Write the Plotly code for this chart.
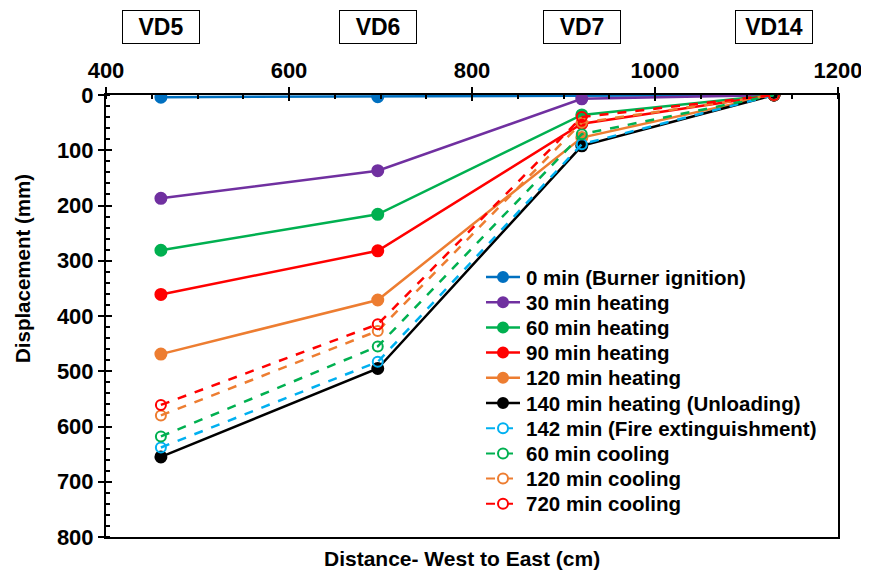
import plotly.graph_objects as go

gauges = ["VD5", "VD6", "VD7", "VD14"]
distance_cm = [460, 697, 920, 1130]

series_names = [
    "0 min (Burner ignition)",
    "30 min heating",
    "60 min heating",
    "90 min heating",
    "120 min heating",
    "140 min heating (Unloading)",
    "142 min (Fire extinguishment)",
    "60 min cooling",
    "120 min cooling",
    "720 min cooling",
]
disp_0 = [4, 3, 1, 0]
disp_30 = [187, 137, 7, 0]
disp_60 = [281, 216, 36, 0]
disp_90 = [361, 282, 52, 0]
disp_120 = [469, 371, 77, 0]
disp_140 = [655, 495, 92, 0]
disp_142 = [638, 483, 89, 0]
disp_c60 = [618, 455, 71, 0]
disp_c120 = [580, 427, 50, 0]
disp_c720 = [561, 415, 40, 0]

x_ticks = [400, 600, 800, 1000, 1200]
y_ticks = [0, 100, 200, 300, 400, 500, 600, 700, 800]

values = [disp_0, disp_30, disp_60, disp_90, disp_120, disp_140,
          disp_142, disp_c60, disp_c120, disp_c720]
colors = ["#0070C0", "#7030A0", "#00B050", "#FF0000", "#ED7D31", "#000000",
          "#00B0F0", "#00B050", "#ED7D31", "#FF0000"]
dashed = [False] * 6 + [True] * 4

fig = go.Figure()
for name, vals, col, dsh in zip(series_names, values, colors, dashed):
    fig.add_trace(go.Scatter(
        x=distance_cm, y=vals, name=name, mode="lines+markers", showlegend=False,
        line=dict(color=col, width=2.5, dash="dash" if dsh else "solid"),
        marker=dict(size=11 if not dsh else 10,
                    symbol="circle-open" if dsh else "circle",
                    color=col, line=dict(color=col, width=2)),
    ))

# invisible helper trace for overlay axes (inner half of crossing ticks)
fig.add_trace(go.Scatter(x=[None], y=[None], xaxis="x2", yaxis="y2",
                         showlegend=False, hoverinfo="skip"))

font = "Liberation Sans, Arial, sans-serif"
tf = dict(family=font, size=22, color="black", weight="bold")

# page is offset by 8px body margin; plot area spans page x 106..838, y 95..537
fig.update_layout(
    width=861, height=567,
    margin=dict(l=98, r=31, t=87, b=38, autoexpand=False),
    paper_bgcolor="white", plot_bgcolor="white",
    font=dict(family=font, size=21, color="black"),
    showlegend=False,
    xaxis=dict(
        side="top", range=[400, 1200], tickvals=x_ticks, automargin=False,
        showline=True, linecolor="black", linewidth=2, mirror=True,
        ticks="outside", ticklen=6, tickwidth=2, tickcolor="black",
        minor=dict(dtick=50, ticks="inside", ticklen=4, tickwidth=1.5, tickcolor="black"),
        showgrid=False, zeroline=False, tickfont=tf,
    ),
    yaxis=dict(
        range=[800, 0], tickvals=y_ticks, automargin=False,
        showline=True, linecolor="black", linewidth=2, mirror=True,
        ticks="outside", ticklen=6, tickwidth=2, tickcolor="black",
        minor=dict(dtick=20, ticks="inside", ticklen=4, tickwidth=1.5, tickcolor="black"),
        showgrid=False, zeroline=False, tickfont=tf,
    ),
    xaxis2=dict(overlaying="x", side="top", range=[400, 1200], tickvals=x_ticks,
                ticks="inside", ticklen=6, tickwidth=2, tickcolor="black",
                showticklabels=False, showline=False, showgrid=False, zeroline=False,
                automargin=False),
    yaxis2=dict(overlaying="y", side="left", range=[800, 0], tickvals=y_ticks,
                ticks="inside", ticklen=6, tickwidth=2, tickcolor="black",
                showticklabels=False, showline=False, showgrid=False, zeroline=False,
                automargin=False),
)

# custom legend (rows 25px apart) built from the series lists
PX0, PY0, PW, PH = 106, 537, 732, 442
def px(xp):
    return (xp - PX0) / PW
def py(yp):
    return (PY0 - yp) / PH

for i, (name, col, dsh) in enumerate(zip(series_names, colors, dashed)):
    yrow = py(277 + 25.2 * i)
    fig.add_shape(type="line", xref="paper", yref="paper",
                  x0=px(486), x1=px(520), y0=yrow, y1=yrow,
                  line=dict(color=col, width=2.5 if not dsh else 2,
                            dash="dash" if dsh else "solid"))
    fig.add_shape(type="circle", xref="paper", yref="paper",
                  xsizemode="pixel", ysizemode="pixel",
                  xanchor=px(503), yanchor=yrow, x0=-5, x1=5, y0=-5, y1=5,
                  fillcolor="white" if dsh else col,
                  line=dict(color=col, width=2))
    fig.add_annotation(x=px(524), y=yrow, xref="paper", yref="paper",
                       xanchor="left", yanchor="middle", showarrow=False,
                       text="<b>" + name + "</b>",
                       font=dict(family=font, size=20.5, color="black"))

for g, d in zip(gauges, distance_cm):
    fig.add_annotation(
        x=d, y=1, xref="x", yref="paper", yshift=68, yanchor="middle",
        text="<b>" + g + "</b>", showarrow=False,
        font=dict(family=font, size=23, color="black"),
        width=74, height=30, borderpad=1,
        bordercolor="black", borderwidth=1, bgcolor="white",
    )

fig.add_annotation(
    x=px(462), y=0, xref="paper", yref="paper", yshift=-21, yanchor="middle",
    text="<b>Distance- West to East (cm)</b>", showarrow=False,
    font=dict(family=font, size=21, color="black"),
)
fig.add_annotation(
    x=0, y=py(269), xref="paper", yref="paper", xshift=-84,
    yanchor="middle", xanchor="center",
    text="<b>Displacement (mm)</b>", showarrow=False, textangle=-90,
    font=dict(family=font, size=20.5, color="black"),
)

fig.write_html("out.html")
